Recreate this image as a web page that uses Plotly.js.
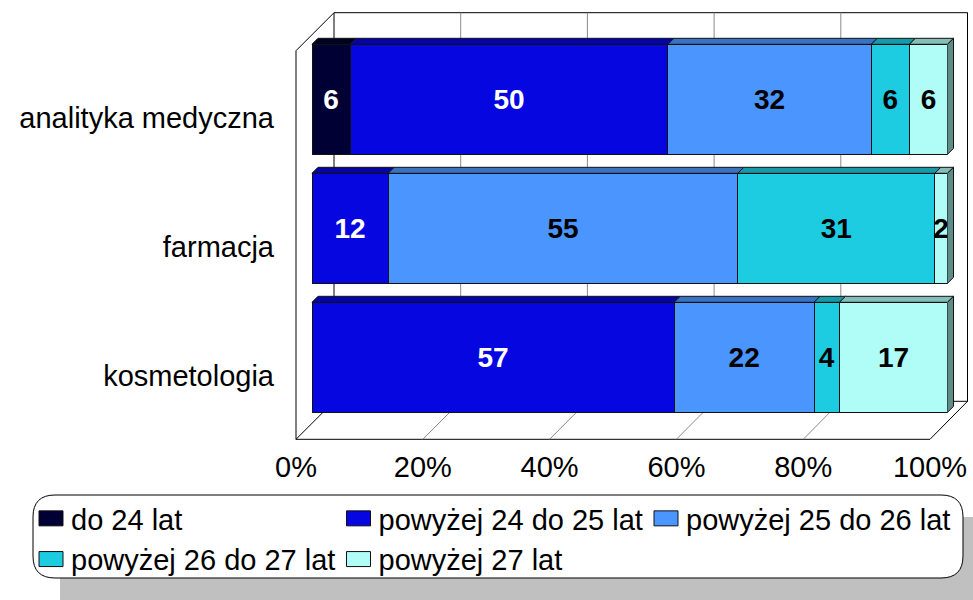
<!DOCTYPE html>
<html><head><meta charset="utf-8">
<script src="https://cdn.plot.ly/plotly-3.0.1.min.js"></script>
<style>html,body{margin:0;padding:0;background:#fff}#chart{width:973px;height:600px}</style>
</head><body><div id="chart"></div>
<script>
// ---- data ----
const categories = ['analityka medyczna', 'farmacja', 'kosmetologia'];
const seriesNames = ['do 24 lat', 'powyżej 24 do 25 lat', 'powyżej 25 do 26 lat', 'powyżej 26 do 27 lat', 'powyżej 27 lat'];
const do24 = [6, 0, 0];
const p24_25 = [50, 12, 57];
const p25_26 = [32, 55, 22];
const p26_27 = [6, 31, 4];
const p27 = [6, 2, 17];
const xTicks = [0, 20, 40, 60, 80, 100];

// ---- styles ----
const frontColors = ['#000035', '#0606E0', '#4B95FF', '#1DCCE0', '#B0FCF6'];
const topColors   = ['#00001F', '#0404A6', '#3A72C2', '#169AAA', '#84BEB8'];
const sideColors  = ['#000015', '#03037A', '#2A5590', '#10707C', '#5E8C86'];
const labelColors = ['#FFFFFF', '#FFFFFF', '#000000', '#000000', '#000000'];
const FONT = 'Liberation Sans, Arial, sans-serif';

const W = 973, H = 600;
const X_DOM = [312 / W, 947.5 / W];
const Y_TOP = -0.770, PXCAT = 129, Y_BOT = Y_TOP + H / PXCAT;
const BARW = 0.853;
const DEPTH = 6;
// 3D frame geometry (pixels)
const FLOOR_X0 = 296, FLOOR_X1 = 930, FLOOR_Y = 439.3;
const BACK_X0 = 334, BACK_X1 = 967.5, BACK_TOP = 12.7, BACK_BOT = 401.3;
const LEFT_TOP = BACK_TOP + (BACK_X0 - FLOOR_X0);

const series = [do24, p24_25, p25_26, p26_27, p27];

function xb(v) { return X_DOM[0] * W + v / 100 * (X_DOM[1] - X_DOM[0]) * W; }
function yb(i) { return (i - Y_TOP) * PXCAT; }
function fx(px) { return px / W; }
function fy(py) { return 1 - py / H; }
function poly(pts) { return 'M' + pts.map(p => fx(p[0]).toFixed(5) + ',' + fy(p[1]).toFixed(5)).join('L') + 'Z'; }
function line(x0, y0, x1, y1, color) {
  return {type: 'line', xref: 'paper', yref: 'paper', x0: fx(x0), y0: fy(y0), x1: fx(x1), y1: fy(y1),
          line: {color: color, width: 1}, layer: 'below'};
}

const traces = series.map((vals, s) => ({
  type: 'bar', orientation: 'h', name: seriesNames[s],
  x: vals, y: categories,
  text: vals.map(v => v > 0 ? String(v) : ''),
  textposition: 'inside', insidetextanchor: 'middle', textangle: 0, constraintext: 'none',
  textfont: {family: FONT, size: 28, color: labelColors[s], weight: 'bold'},
  marker: {color: frontColors[s], line: {color: '#111', width: 1}},
  width: BARW, hoverinfo: 'x+name'
}));
// helper trace carrying the offset tick-label axes
traces.push({type: 'scatter', mode: 'markers', x: [0, 100], y: [categories[0], categories[2]],
  xaxis: 'x2', yaxis: 'y2', marker: {opacity: 0}, showlegend: false, hoverinfo: 'skip'});

const shapes = [];
// walls and floor
shapes.push(line(FLOOR_X0, LEFT_TOP, FLOOR_X0, FLOOR_Y, '#000'));
shapes.push(line(FLOOR_X0, LEFT_TOP, BACK_X0, BACK_TOP, '#000'));
shapes.push(line(BACK_X0, BACK_TOP, BACK_X1, BACK_TOP, '#000'));
shapes.push(line(BACK_X1, BACK_TOP, BACK_X1, BACK_BOT, '#000'));
shapes.push(line(BACK_X0, BACK_BOT, BACK_X1, BACK_BOT, '#000'));
shapes.push(line(FLOOR_X0, FLOOR_Y, FLOOR_X1, FLOOR_Y, '#000'));
xTicks.forEach(t => {
  const bx = BACK_X0 + t / 100 * (BACK_X1 - BACK_X0);
  const fxp = FLOOR_X0 + t / 100 * (FLOOR_X1 - FLOOR_X0);
  const edge = (t === 0 || t === 100);
  shapes.push(line(bx, BACK_TOP, bx, BACK_BOT, edge ? '#000' : '#8a8a8a'));
  shapes.push(line(fxp, FLOOR_Y, bx, BACK_BOT, edge ? '#000' : '#8a8a8a'));
});
// bar top faces and end side faces
categories.forEach((c, i) => {
  const yt = yb(i) - BARW / 2 * PXCAT, ybt = yb(i) + BARW / 2 * PXCAT;
  let cum = 0, lastS = -1, lastEnd = 0;
  series.forEach((vals, s) => {
    const v = vals[i];
    if (v <= 0) return;
    const a = xb(cum), b = xb(cum + v);
    shapes.push({type: 'path', xref: 'paper', yref: 'paper', layer: 'below',
      path: poly([[a, yt], [b, yt], [b + DEPTH, yt - DEPTH], [a + DEPTH, yt - DEPTH]]),
      fillcolor: topColors[s], line: {color: '#111', width: 1}});
    cum += v; lastS = s; lastEnd = b;
  });
  shapes.push({type: 'path', xref: 'paper', yref: 'paper', layer: 'below',
    path: poly([[lastEnd, yt], [lastEnd + DEPTH, yt - DEPTH], [lastEnd + DEPTH, ybt - DEPTH], [lastEnd, ybt]]),
    fillcolor: sideColors[lastS], line: {color: '#111', width: 1}});
});
// legend box with shadow
function rounded(x0, y0, x1, y1, r) {
  const p = (x, y) => fx(x).toFixed(5) + ',' + fy(y).toFixed(5);
  return 'M' + p(x0 + r, y0) + 'L' + p(x1 - r, y0) + 'Q' + p(x1, y0) + ' ' + p(x1, y0 + r) +
    'L' + p(x1, y1 - r) + 'Q' + p(x1, y1) + ' ' + p(x1 - r, y1) +
    'L' + p(x0 + r, y1) + 'Q' + p(x0, y1) + ' ' + p(x0, y1 - r) +
    'L' + p(x0, y0 + r) + 'Q' + p(x0, y0) + ' ' + p(x0 + r, y0) + 'Z';
}
shapes.push({type: 'path', xref: 'paper', yref: 'paper', layer: 'below',
  path: rounded(60, 517, 1000, 640, 22), fillcolor: '#C0C0C0', line: {width: 0}});
shapes.push({type: 'path', xref: 'paper', yref: 'paper', layer: 'below',
  path: rounded(33, 495, 963, 578, 22), fillcolor: '#FFFFFF', line: {color: '#000', width: 1}});

const layout = {
  width: W, height: H,
  margin: {l: 0, r: 0, t: 0, b: 0, pad: 0, autoexpand: false},
  paper_bgcolor: '#fff', plot_bgcolor: 'rgba(0,0,0,0)',
  barmode: 'stack', bargap: 0,
  font: {family: FONT, size: 29, color: '#000'},
  showlegend: true,
  xaxis: {domain: X_DOM, range: [0, 100], showgrid: false, zeroline: false, showticklabels: false, showline: false, fixedrange: true},
  yaxis: {domain: [0, 1], type: 'category', categoryarray: categories, categoryorder: 'array',
          range: [Y_BOT, Y_TOP], showgrid: false, zeroline: false, showticklabels: false, showline: false},
  xaxis2: {domain: [FLOOR_X0 / W, FLOOR_X1 / W], range: [0, 100], anchor: 'free', position: fy(FLOOR_Y),
           tickvals: xTicks, ticktext: xTicks.map(t => t + '%'), ticks: 'outside', ticklen: 2,
           tickcolor: 'rgba(0,0,0,0)', showgrid: false, zeroline: false, showline: false,
           tickfont: {family: FONT, size: 29, color: '#000'}},
  yaxis2: {domain: [0, 1], type: 'category', categoryarray: categories, categoryorder: 'array',
           range: [Y_BOT - 0.145, Y_TOP - 0.145], anchor: 'free', position: 274 / W,
           showgrid: false, zeroline: false, showline: false, ticks: '',
           tickfont: {family: FONT, size: 29, color: '#000'}},
  legend: {orientation: 'h', x: 31 / W, y: fy(493), xanchor: 'left', yanchor: 'top',
           bgcolor: 'rgba(0,0,0,0)', borderwidth: 0, entrywidth: 262.5, entrywidthmode: 'pixels',
           font: {family: FONT, size: 29, color: '#000'}, traceorder: 'normal', itemclick: false},
  shapes: shapes
};
Plotly.newPlot('chart', traces, layout, {displayModeBar: false, staticPlot: true}).then(gd => {
  // enlarge legend swatches to match the wide rectangular keys
  gd.querySelectorAll('.legend path.legendbar, .legend .legendpoints path').forEach(p => {
    p.setAttribute('d', 'M12,7.5H-12V-7.5H12Z');
  });
});
</script></body></html>
